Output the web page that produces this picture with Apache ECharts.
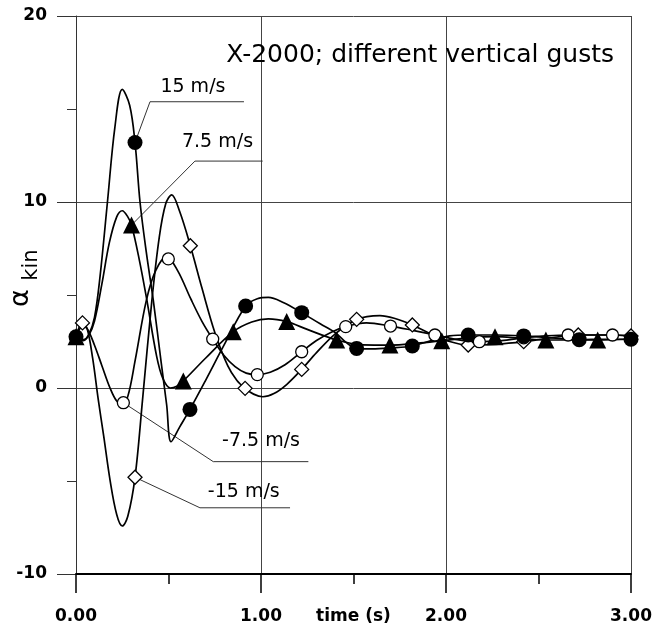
<!DOCTYPE html>
<html>
<head>
<meta charset="utf-8">
<script src="https://cdn.jsdelivr.net/npm/echarts@6/dist/echarts.min.js"></script>
<style>
  html, body { margin: 0; padding: 0; background: #fff; }
  #chart { width: 671px; height: 631px; }
</style>
</head>
<body>
<div id="chart"></div>
<script>
// Axis ticks and their labels
const timeTicks = [0, 1, 2, 3];
const timeTickLabels = ['0.00', '1.00', '2.00', '3.00'];
const alphaTicks = [-10, 0, 10, 20];
const alphaTickLabels = ['-10', '0', '10', '20'];

// Gust cases
const gustNames = ['15 m/s', '7.5 m/s', '-7.5 m/s', '-15 m/s'];

// Kinematic angle of attack response, [time (s), alpha_kin (deg)]
const gust15Curve = [
  [0, 2.75], [0.04, 2.55], [0.07, 2.9], [0.10, 3.8], [0.13, 6.0], [0.17, 10.0],
  [0.21, 14.0], [0.25, 16.05], [0.29, 15.2], [0.319, 13.2], [0.346, 10.0],
  [0.38, 7.3], [0.418, 4.7], [0.46, 1.4], [0.49, -0.9], [0.514, -2.89],
  [0.56, -2.1], [0.616, -1.15], [0.70, 0.4], [0.80, 2.3], [0.917, 4.41],
  [0.98, 4.8], [1.04, 4.87], [1.12, 4.6], [1.22, 4.05], [1.32, 3.45],
  [1.405, 2.95], [1.46, 2.45], [1.517, 2.13], [1.60, 2.1], [1.70, 2.15],
  [1.818, 2.26], [1.92, 2.55], [2.02, 2.8], [2.12, 2.85], [2.27, 2.85],
  [2.42, 2.8], [2.57, 2.7], [2.72, 2.6], [2.86, 2.62], [3.0, 2.62]
];
const gust15Marks = [
  [0, 2.75], [0.319, 13.2], [0.616, -1.15], [0.917, 4.41], [1.22, 4.05],
  [1.517, 2.13], [1.818, 2.26], [2.12, 2.85], [2.42, 2.8], [2.72, 2.6], [3.0, 2.62]
];

const gust7Curve = [
  [0, 2.75], [0.04, 2.6], [0.07, 2.85], [0.10, 3.6], [0.14, 5.6], [0.18, 7.8],
  [0.22, 9.2], [0.25, 9.53], [0.28, 9.2], [0.30, 8.76], [0.34, 7.0],
  [0.38, 4.9], [0.436, 1.7], [0.47, 0.5], [0.51, 0.0], [0.545, 0.1],
  [0.58, 0.38], [0.70, 1.6], [0.85, 3.03], [0.95, 3.55], [1.04, 3.72],
  [1.139, 3.57], [1.25, 3.15], [1.409, 2.58], [1.55, 2.32], [1.697, 2.31],
  [1.84, 2.4], [1.977, 2.54], [2.12, 2.7], [2.265, 2.76], [2.40, 2.68],
  [2.54, 2.58], [2.68, 2.58], [2.82, 2.58], [3.0, 2.62]
];
const gust7Marks = [
  [0, 2.75], [0.30, 8.76], [0.58, 0.38], [0.85, 3.03], [1.139, 3.57],
  [1.409, 2.58], [1.697, 2.31], [1.977, 2.54], [2.265, 2.76], [2.54, 2.58], [2.82, 2.58]
];

const gustN7Curve = [
  [0, 2.75], [0.035, 3.3], [0.06, 3.2], [0.10, 2.3], [0.14, 1.2], [0.184, 0.0],
  [0.22, -0.7], [0.25, -0.85], [0.28, -0.45], [0.32, 1.5], [0.38, 4.7],
  [0.43, 6.3], [0.49, 7.05], [0.55, 6.3], [0.62, 4.8], [0.68, 3.6],
  [0.739, 2.63], [0.80, 1.75], [0.86, 1.15], [0.92, 0.8], [0.98, 0.72],
  [1.05, 0.85], [1.13, 1.25], [1.22, 1.95], [1.30, 2.55], [1.38, 3.0],
  [1.458, 3.3], [1.57, 3.5], [1.70, 3.33], [1.82, 3.1], [1.94, 2.85],
  [2.06, 2.6], [2.18, 2.49], [2.30, 2.55], [2.42, 2.7], [2.54, 2.8],
  [2.66, 2.85], [2.78, 2.85], [2.90, 2.85], [3.0, 2.8]
];
const gustN7Marks = [
  [0, 2.75], [0.256, -0.79], [0.499, 6.94], [0.739, 2.63], [0.98, 0.72],
  [1.22, 1.95], [1.458, 3.3], [1.70, 3.33], [1.94, 2.85], [2.18, 2.49],
  [2.42, 2.7], [2.66, 2.85], [2.90, 2.85]
];

const gustN15Curve = [
  [0, 2.75], [0.035, 3.5], [0.06, 3.2], [0.09, 1.6], [0.12, -0.6], [0.15, -2.6],
  [0.184, -4.95], [0.22, -6.8], [0.25, -7.42], [0.28, -6.9], [0.319, -4.8],
  [0.36, -0.6], [0.41, 4.7], [0.45, 8.1], [0.485, 9.9], [0.517, 10.38],
  [0.56, 9.5], [0.618, 7.65], [0.68, 5.4], [0.75, 3.0], [0.82, 1.2],
  [0.87, 0.4], [0.914, -0.02], [0.96, -0.33], [1.01, -0.47], [1.07, -0.3],
  [1.14, 0.2], [1.22, 1.0], [1.30, 1.9], [1.40, 2.9], [1.517, 3.69],
  [1.643, 3.89], [1.72, 3.75], [1.818, 3.39], [1.92, 2.9], [2.02, 2.5],
  [2.12, 2.31], [2.27, 2.35], [2.42, 2.49], [2.57, 2.7], [2.715, 2.85],
  [2.86, 2.85], [3.0, 2.8]
];
const gustN15Marks = [
  [0.035, 3.5], [0.319, -4.8], [0.618, 7.65], [0.914, -0.02], [1.22, 1.0],
  [1.517, 3.69], [1.818, 3.39], [2.12, 2.31], [2.42, 2.49], [2.715, 2.85], [3.0, 2.8]
];

// Callout placement (data coordinates): elbow of the leader, end of the underline, text centre
const calloutLayout = [
  { from: gust15Marks[1],  elbow: [0.400, 15.39], end: [0.908, 15.39], text: [0.632, 16.16] },
  { from: gust7Marks[1],   elbow: [0.643, 12.20], end: [1.009, 12.20], text: [0.765, 13.24] },
  { from: gustN7Marks[1],  elbow: [0.742, -3.96], end: [1.256, -3.96], text: [1.000, -2.87] },
  { from: gustN15Marks[1], elbow: [0.670, -6.44], end: [1.157, -6.44], text: [0.907, -5.62] }
];

const FONT = 'DejaVu Sans';

function curve(name, data) {
  return {
    type: 'line', name: name, data: data, smooth: 0.35, symbol: 'none',
    lineStyle: { color: '#000', width: 1.7, opacity: 1 }, z: 3, silent: true
  };
}
function marks(name, data, symbol, size, filled) {
  return {
    type: 'scatter', name: name, data: data, symbol: symbol, symbolSize: size,
    itemStyle: filled
      ? { color: '#000', borderWidth: 0, opacity: 1 }
      : { color: '#fff', borderColor: '#000', borderWidth: 1.3, opacity: 1 },
    z: 5, silent: true
  };
}

const series = [
  curve(gustNames[0], gust15Curve),
  curve(gustNames[1], gust7Curve),
  curve(gustNames[2], gustN7Curve),
  curve(gustNames[3], gustN15Curve)
];

calloutLayout.forEach(function (c) {
  series.push({
    type: 'line', data: [c.from, c.elbow, c.end], symbol: 'none', silent: true,
    lineStyle: { color: '#333', width: 1 }, z: 2
  });
});

series.push(
  marks(gustNames[3], gustN15Marks, 'diamond', 14, false),
  marks(gustNames[2], gustN7Marks, 'circle', 12, false),
  marks(gustNames[1], gust7Marks, 'triangle', 17, true),
  marks(gustNames[0], gust15Marks, 'circle', 15, true)
);

series.push({
  type: 'scatter', symbolSize: 1, silent: true, z: 6,
  itemStyle: { color: 'rgba(0,0,0,0)', opacity: 1 },
  data: calloutLayout.map(function (c, i) { return { value: c.text, name: gustNames[i] }; }),
  label: {
    show: true, position: 'inside', formatter: '{b}', opacity: 1,
    fontFamily: FONT, fontSize: 19, color: '#000'
  }
});

function tickLabel(values, labels) {
  return function (v) {
    const i = values.indexOf(v);
    return i >= 0 ? labels[i] : '';
  };
}

const chart = echarts.init(document.getElementById('chart'), null, { renderer: 'canvas' });
chart.setOption({
  animation: false,
  backgroundColor: '#fff',
  title: {
    text: 'X-2000; different vertical gusts',
    right: 57, top: 43, padding: 0,
    textStyle: { fontFamily: FONT, fontSize: 25, fontWeight: 'normal', color: '#000' }
  },
  grid: { left: 76, right: 40, top: 16, bottom: 57, containLabel: false, outerBoundsMode: 'none' },
  xAxis: {
    type: 'value', min: 0, max: 3, interval: 1,
    axisLine: { show: true, onZero: false, lineStyle: { color: '#000', width: 2 } },
    axisTick: { show: true, length: 19, lineStyle: { color: '#000', width: 1.5 } },
    minorTick: { show: true, splitNumber: 2, length: 10, lineStyle: { color: '#000', width: 1.5 } },
    splitLine: { show: true, lineStyle: { color: '#444', width: 1 } },
    axisLabel: {
      margin: 34, formatter: tickLabel(timeTicks, timeTickLabels),
      fontFamily: FONT, fontSize: 17, fontWeight: 'bold', color: '#000'
    },
    name: 'time (s)', nameLocation: 'middle', nameGap: 34, nameMoveOverlap: false,
    nameTextStyle: { fontFamily: FONT, fontSize: 17, fontWeight: 'bold', color: '#000',
                     verticalAlign: 'top' }
  },
  yAxis: {
    type: 'value', min: -10, max: 20, interval: 10,
    axisLine: { show: true, onZero: false, lineStyle: { color: '#333', width: 1 } },
    axisTick: { show: true, length: 19, lineStyle: { color: '#333', width: 1 } },
    minorTick: { show: true, splitNumber: 2, length: 9, lineStyle: { color: '#333', width: 1 } },
    splitLine: { show: true, lineStyle: { color: '#444', width: 1 } },
    axisLabel: {
      margin: 29, formatter: tickLabel(alphaTicks, alphaTickLabels),
      fontFamily: FONT, fontSize: 17, fontWeight: 'bold', color: '#000'
    }
  },
  graphic: [
    {
      type: 'text', x: 21, y: 298, rotation: Math.PI / 2, silent: true,
      style: { text: 'α', fontFamily: FONT, fontSize: 27, fontWeight: 'normal', fill: '#000',
               align: 'center', verticalAlign: 'middle' }
    },
    {
      type: 'text', x: 31.5, y: 265, rotation: Math.PI / 2, silent: true,
      style: { text: 'kin', fontFamily: FONT, fontSize: 21, fontWeight: 'normal', fill: '#000',
               align: 'center', verticalAlign: 'middle' }
    }
  ],
  series: series
});
</script>
</body>
</html>
